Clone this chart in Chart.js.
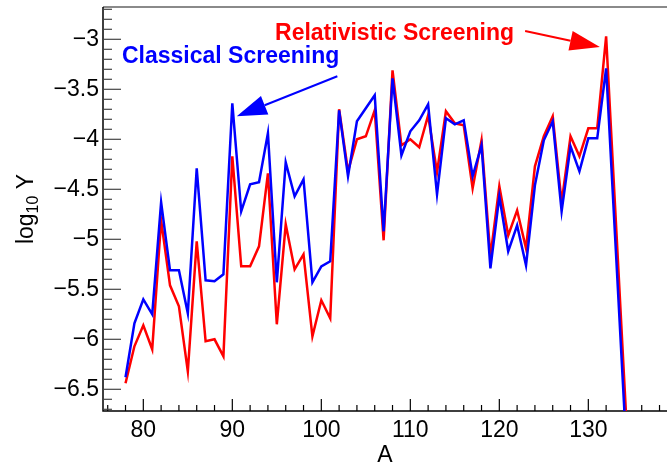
<!DOCTYPE html>
<html>
<head>
<meta charset="utf-8">
<script src="https://cdn.jsdelivr.net/npm/chart.js@4"></script>
<style>
  html, body { margin: 0; padding: 0; background: #fff; overflow: hidden; }
  canvas { display: block; }
</style>
</head>
<body>
<canvas id="yieldChart" width="667" height="463"></canvas>
<script>
// mass numbers
const massNumbers = [78, 79, 80, 81, 82, 83, 84, 85, 86, 87, 88, 89, 90, 91, 92, 93, 94, 95, 96, 97,
    98, 99, 100, 101, 102, 103, 104, 105, 106, 107, 108, 109, 110, 111, 112, 113, 114, 115, 116, 117,
    118, 119, 120, 121, 122, 123, 124, 125, 126, 127, 128, 129, 130, 131, 132, 133, 134, 135];

// log10 of the abundance, classical screening
const classicalLogY = [-6.38, -5.84, -5.60, -5.75, -4.63, -5.31, -5.31, -5.74, -4.29, -5.41, -5.42, -5.35,
    -3.64, -4.72, -4.45, -4.43, -3.94, -5.43, -4.23, -4.57, -4.40, -5.43, -5.27, -5.22, -3.71, -4.37,
    -3.82, -3.69, -3.56, -4.92, -3.39, -4.16, -3.92, -3.81, -3.65, -4.55, -3.79, -3.85, -3.81, -4.37,
    -4.06, -5.29, -4.57, -5.12, -4.86, -5.26, -4.46, -4.01, -3.82, -4.72, -4.07, -4.32, -3.99, -3.99,
    -3.29, -4.96, -6.63, -8.30];

// log10 of the abundance, relativistic screening
const relativisticLogY = [-6.44, -6.07, -5.86, -6.10, -4.81, -5.46, -5.67, -6.32, -5.02, -6.02, -6.00, -6.17,
    -4.17, -5.27, -5.27, -5.07, -4.34, -5.85, -4.85, -5.30, -5.15, -5.97, -5.61, -5.79, -3.70, -4.32,
    -4.00, -3.97, -3.71, -5.01, -3.31, -4.06, -4.00, -4.08, -3.76, -4.33, -3.72, -3.84, -3.86, -4.49,
    -4.01, -5.17, -4.47, -4.96, -4.71, -5.09, -4.27, -3.97, -3.77, -4.63, -3.97, -4.17, -3.89, -3.89,
    -2.97, -4.66, -6.35, -8.04];

const xTickLabels = [80, 90, 100, 110, 120, 130];
const yTickLabels = [-6.5, -6, -5.5, -5, -4.5, -4, -3.5, -3];

const FONT = '"Liberation Sans", Arial, Helvetica, sans-serif';
Chart.defaults.font.family = FONT;
Chart.defaults.color = '#000';

function toPoints(ys) {
    return massNumbers.map((a, i) => ({ x: a, y: ys[i] }));
}

function fmt(v) {
    const s = String(v);
    return s.charAt(0) === '-' ? '\u2212' + s.slice(1) : s;
}

function noPadding(scale) {
    scale.paddingTop = 0;
    scale.paddingBottom = 0;
    scale.paddingLeft = 0;
    scale.paddingRight = 0;
}

// frame and inward tick marks, drawn under the curves
const frameTicks = {
    id: 'frameTicks',
    beforeDatasetsDraw(chart) {
        const { ctx, chartArea: a, scales: { x, y } } = chart;
        ctx.save();

        ctx.strokeStyle = '#8a8a8a';
        ctx.lineWidth = 2;
        ctx.beginPath();
        ctx.moveTo(a.left, a.top);
        ctx.lineTo(a.right, a.top);
        ctx.stroke();

        ctx.strokeStyle = '#000';
        ctx.lineWidth = 1.5;
        ctx.beginPath();
        ctx.moveTo(a.left, a.top);
        ctx.lineTo(a.left, a.bottom);
        ctx.lineTo(a.right, a.bottom);
        ctx.stroke();

        // x ticks: minor every 2, major every 10
        ctx.lineWidth = 1.2;
        ctx.strokeStyle = '#000';
        for (let v = 76; v <= x.max; v += 2) {
            const px = x.getPixelForValue(v);
            const len = v % 10 === 0 ? 12 : 6;
            ctx.beginPath();
            ctx.moveTo(px, a.bottom);
            ctx.lineTo(px, a.bottom - len);
            ctx.stroke();
        }

        // y ticks: minor every 0.1, major every 0.5
        ctx.strokeStyle = '#444';
        for (let k = -67; k <= -27; k++) {
            const py = y.getPixelForValue(k / 10);
            const len = k % 5 === 0 ? 18 : 9;
            ctx.beginPath();
            ctx.moveTo(a.left, py);
            ctx.lineTo(a.left + len, py);
            ctx.stroke();
        }
        ctx.restore();
    }
};

function arrow(ctx, x0, y0, x1, y1, color) {
    const dx = x1 - x0, dy = y1 - y0;
    const d = Math.hypot(dx, dy);
    const ux = dx / d, uy = dy / d;
    const bx = x1 - ux * 30, by = y1 - uy * 30;
    ctx.strokeStyle = color;
    ctx.fillStyle = color;
    ctx.lineWidth = 2;
    ctx.beginPath();
    ctx.moveTo(x0, y0);
    ctx.lineTo(bx, by);
    ctx.stroke();
    ctx.beginPath();
    ctx.moveTo(x1, y1);
    ctx.lineTo(bx - uy * 10, by + ux * 10);
    ctx.lineTo(bx + uy * 10, by - ux * 10);
    ctx.closePath();
    ctx.fill();
}

// labels, arrows and axis titles
const notes = {
    id: 'notes',
    afterDraw(chart) {
        const { ctx, chartArea: a, scales: { x, y } } = chart;
        ctx.save();
        ctx.textBaseline = 'alphabetic';
        ctx.textAlign = 'left';
        ctx.font = 'bold 23px ' + FONT;

        ctx.fillStyle = '#0000ff';
        ctx.fillText('Classical Screening', x.getPixelForValue(77.6), y.getPixelForValue(-3.24));
        arrow(ctx, x.getPixelForValue(101.8), y.getPixelForValue(-3.37),
            x.getPixelForValue(90.5), y.getPixelForValue(-3.77), '#0000ff');

        ctx.fillStyle = '#ff0000';
        ctx.fillText('Relativistic Screening', x.getPixelForValue(94.8), y.getPixelForValue(-3.01));
        arrow(ctx, x.getPixelForValue(122.9), y.getPixelForValue(-2.917),
            x.getPixelForValue(131.3), y.getPixelForValue(-3.077), '#ff0000');

        // axis titles
        ctx.fillStyle = '#000';
        ctx.font = '23px ' + FONT;
        ctx.textAlign = 'center';
        ctx.fillText('A', (a.left + a.right) / 2, 462);

        ctx.translate(33, (a.top + a.bottom) / 2);
        ctx.rotate(-Math.PI / 2);
        ctx.textAlign = 'left';
        const big = '23px ' + FONT, small = '16px ' + FONT;
        ctx.font = big;
        const w1 = ctx.measureText('log').width;
        const w3 = ctx.measureText(' Y').width;
        ctx.font = small;
        const w2 = ctx.measureText('10').width;
        let cx = -(w1 + w2 + w3) / 2;
        ctx.font = big;
        ctx.fillText('log', cx, 0);
        cx += w1;
        ctx.font = small;
        ctx.fillText('10', cx, 5);
        cx += w2;
        ctx.font = big;
        ctx.fillText(' Y', cx, 0);
        ctx.restore();
    }
};

new Chart(document.getElementById('yieldChart'), {
    type: 'line',
    data: {
        datasets: [{
            label: 'Classical Screening',
            data: toPoints(classicalLogY),
            borderColor: '#0000ff',
            borderWidth: 2.5,
            pointRadius: 0,
            tension: 0
        }, {
            label: 'Relativistic Screening',
            data: toPoints(relativisticLogY),
            borderColor: '#ff0000',
            borderWidth: 2.5,
            pointRadius: 0,
            tension: 0
        }]
    },
    options: {
        responsive: false,
        animation: false,
        layout: { padding: { top: 7, right: 0, left: 0, bottom: 0 } },
        plugins: {
            legend: { display: false },
            tooltip: { enabled: false }
        },
        scales: {
            x: {
                type: 'linear',
                min: 75.47,
                max: 138.84,
                grid: { display: false, drawTicks: false, tickLength: 0 },
                border: { display: false },
                afterBuildTicks: s => { s.ticks = xTickLabels.map(v => ({ value: v })); },
                afterFit: s => { s.height = 52; noPadding(s); },
                ticks: {
                    font: { size: 23 },
                    padding: 6,
                    maxRotation: 0,
                    callback: v => fmt(v)
                }
            },
            y: {
                type: 'linear',
                min: -6.717,
                max: -2.677,
                grid: { display: false, drawTicks: false, tickLength: 0 },
                border: { display: false },
                afterBuildTicks: s => { s.ticks = yTickLabels.map(v => ({ value: v })); },
                afterFit: s => { s.width = 103; noPadding(s); },
                ticks: {
                    font: { size: 23 },
                    padding: 4,
                    callback: v => fmt(v)
                }
            }
        }
    },
    plugins: [frameTicks, notes]
});
</script>
</body>
</html>
